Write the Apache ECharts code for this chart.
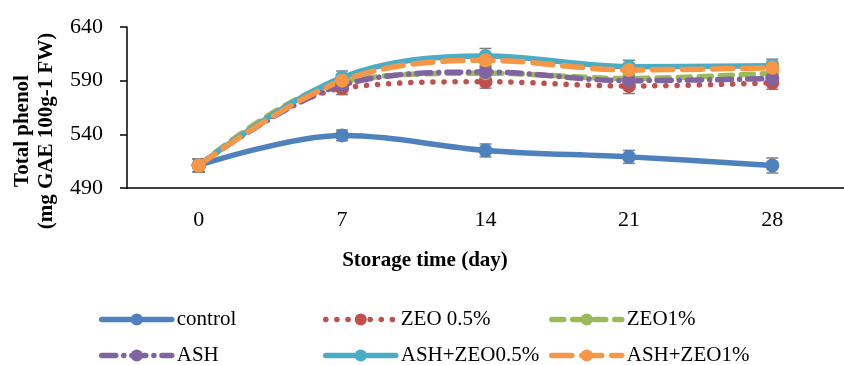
<!DOCTYPE html>
<html>
<head>
<meta charset="utf-8">
<script src="https://cdn.jsdelivr.net/npm/echarts@6/dist/echarts.min.js"></script>
<style>
  html, body { margin: 0; padding: 0; background: #fff; }
  #main { width: 844px; height: 365px; }
</style>
</head>
<body>
<div id="main"></div>
<script>
var days = ['0', '7', '14', '21', '28'];
var control = [511, 539, 525, 519, 511];
var zeo05 = [511, 583, 589, 585, 588];
var zeo1 = [511, 589, 597, 592, 597];
var ash = [511, 586, 598, 590, 592];
var ashZeo05 = [511, 593, 613, 603, 604];
var ashZeo1 = [511, 590, 609, 600, 602];
// standard error (small, mostly hidden behind the markers)
var controlErr = [6, 5, 6, 6, 7];
var zeo05Err = [6, 6, 6, 7, 6];
var zeo1Err = [6, 5, 5, 6, 6];
var ashErr = [6, 6, 6, 6, 6];
var ashZeo05Err = [6, 6, 7, 6, 6];
var ashZeo1Err = [6, 6, 6, 6, 6];
var yTicks = [490, 540, 590, 640];

var font = '"Liberation Serif", "Times New Roman", serif';

var names = ['control', 'ZEO 0.5%', 'ZEO1%', 'ASH', 'ASH+ZEO0.5%', 'ASH+ZEO1%'];
var colors = ['#4F81BD', '#C0504D', '#9BBB59', '#8064A2', '#4BACC6', '#F79646'];
var dashes = ['solid', [0.1, 11], [12, 9], [14, 8, 0.1, 8], 'solid', [20, 10]];
var values = [control, zeo05, zeo1, ash, ashZeo05, ashZeo1];
var errors = [controlErr, zeo05Err, zeo1Err, ashErr, ashZeo05Err, ashZeo1Err];

function line(i) {
    return {
        name: names[i],
        type: 'line',
        data: values[i],
        smooth: 0.35,
        symbol: 'circle',
        symbolSize: 14,
        z: 3,
        itemStyle: { color: colors[i] },
        lineStyle: { color: colors[i], width: 5.5, type: dashes[i], cap: 'round' }
    };
}

function errorBars(i) {
    var data = values[i].map(function (v, k) {
        return [k, v - errors[i][k], v + errors[i][k]];
    });
    return {
        type: 'custom',
        z: 2,
        silent: true,
        data: data,
        renderItem: function (params, api) {
            var lo = api.coord([api.value(0), api.value(1)]);
            var hi = api.coord([api.value(0), api.value(2)]);
            var w = 6;
            var st = { stroke: '#7f7f7f', lineWidth: 1.5 };
            return {
                type: 'group',
                children: [
                    { type: 'line', shape: { x1: lo[0], y1: lo[1], x2: hi[0], y2: hi[1] }, style: st },
                    { type: 'line', shape: { x1: lo[0] - w, y1: lo[1], x2: lo[0] + w, y2: lo[1] }, style: st },
                    { type: 'line', shape: { x1: hi[0] - w, y1: hi[1], x2: hi[0] + w, y2: hi[1] }, style: st }
                ]
            };
        }
    };
}

// one legend per item so they sit in the same 3-column grid as the original
var legendPos = [[99, 309], [323, 309], [549, 309], [99, 345], [323, 345], [549, 345]];
var legends = names.map(function (n, i) {
    return {
        data: [n],
        left: legendPos[i][0],
        top: legendPos[i][1],
        padding: 0,
        itemWidth: 70,
        itemHeight: 15,
        lineStyle: { width: 5.5, type: dashes[i], color: colors[i], cap: 'round' },
        textStyle: { fontFamily: font, fontSize: 21, color: '#000' }
    };
});

var series = names.map(function (n, i) { return errorBars(i); })
    .concat(names.map(function (n, i) { return line(i); }));

var options = {
    animation: false,
    backgroundColor: '#fff',
    grid: { left: 127, top: 27, width: 725, height: 161 },
    legend: legends,
    xAxis: {
        type: 'category',
        data: days,
        boundaryGap: true,
        axisLine: { lineStyle: { color: '#000', width: 1.5 } },
        axisTick: { length: 7, lineStyle: { color: '#000', width: 1.5 } },
        axisLabel: { margin: 21, color: '#000', fontFamily: font, fontSize: 22 },
        splitLine: { show: false }
    },
    yAxis: {
        type: 'value',
        min: yTicks[0],
        max: yTicks[yTicks.length - 1],
        interval: 50,
        axisLine: { show: true, lineStyle: { color: '#000', width: 1.5 } },
        axisTick: { show: true, length: 7, lineStyle: { color: '#000', width: 1.5 } },
        axisLabel: { margin: 24, color: '#000', fontFamily: font, fontSize: 22 },
        splitLine: { show: false }
    },
    graphic: [
        {
            type: 'text',
            x: 35, y: 131,
            rotation: Math.PI / 2,
            style: {
                text: 'Total phenol\n(mg GAE 100g-1 FW)',
                textAlign: 'center',
                textVerticalAlign: 'middle',
                font: 'bold 21px ' + font,
                lineHeight: 24,
                fill: '#000'
            }
        },
        {
            type: 'text',
            x: 425, y: 261,
            style: {
                text: 'Storage time (day)',
                textAlign: 'center',
                textVerticalAlign: 'middle',
                font: 'bold 21px ' + font,
                fill: '#000'
            }
        }
    ],
    series: series
};

var chart = echarts.init(document.getElementById('main'));
chart.setOption(options);
</script>
</body>
</html>
